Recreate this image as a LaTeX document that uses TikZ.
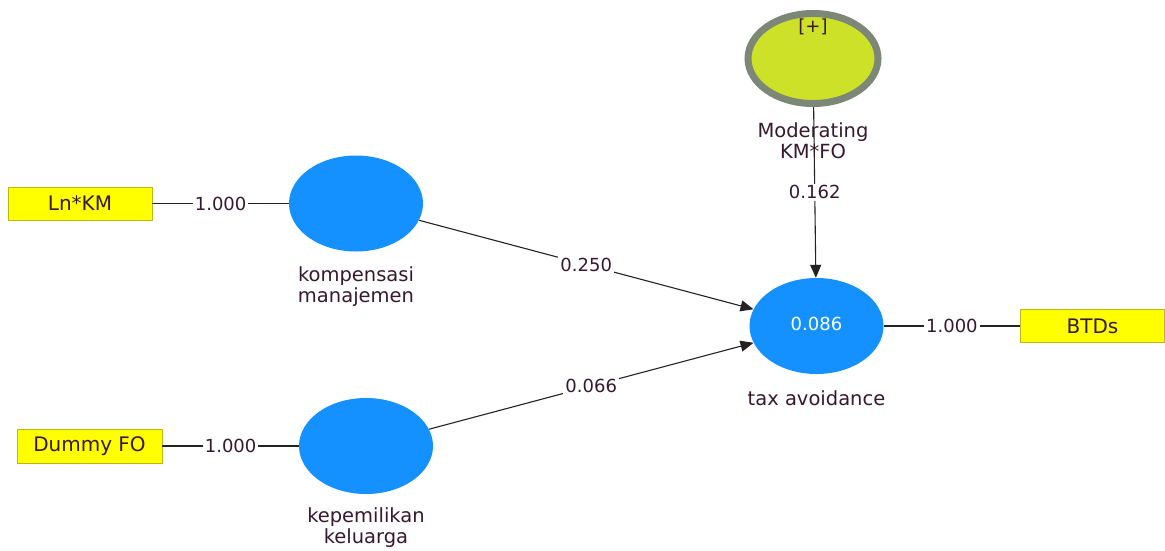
\documentclass[tikz,border=0pt]{standalone}
\usepackage{fontspec}
\setmainfont{DejaVu Sans}
\usetikzlibrary{shapes.geometric,arrows.meta}
\definecolor{lvblue}{RGB}{20,145,255}
\definecolor{indyellow}{RGB}{255,255,0}
\definecolor{indborder}{RGB}{185,185,20}
\definecolor{txtcol}{RGB}{55,25,45}
\definecolor{linecol}{RGB}{35,35,35}
\definecolor{modfill}{RGB}{205,225,40}
\definecolor{modring}{RGB}{125,135,120}
\tikzset{
  lv/.style={ellipse, fill=lvblue, draw=none, minimum width=134pt, minimum height=96pt, inner sep=0pt},
  modlv/.style={ellipse, fill=modfill, draw=modring, line width=7pt, minimum width=130pt, minimum height=90pt, inner sep=0pt},
  ind/.style={rectangle, fill=indyellow, draw=indborder, line width=0.8pt, minimum width=144pt, minimum height=33pt, inner sep=0pt, text=txtcol, font=\fontsize{20}{22}\selectfont},
  lbl/.style={text=txtcol, font=\fontsize{19.5}{21}\selectfont, align=center, inner sep=1pt},
  coef/.style={fill=white, text=txtcol, font=\fontsize{18}{20}\selectfont, inner sep=2pt},
  conn/.style={draw=linecol, line width=1.1pt},
  arr/.style={conn, -{Triangle[length=13pt,width=11pt]}}
}
\begin{document}
\begin{tikzpicture}[x=1pt,y=-1pt]
\useasboundingbox[fill=white] (0,0) rectangle (1165,550);
% latent variables
\node[lv] (komp) at (356,203.5) {};
\node[lv] (kel) at (366,446) {};
\node[lv, text=white, font=\fontsize{18}{20}\selectfont] (tax) at (816.5,326) {\raisebox{4pt}{0.086}};
\node[modlv] (mod) at (813,58.5) {};
\node[lbl, font=\fontsize{18}{20}\selectfont] (plus) at (813,27) {[+]};
% indicators
\node[ind] (lnkm) at (80,203.5) {Ln*KM};
\node[ind, minimum width=145pt, minimum height=34pt] (dfo) at (89.5,446) {Dummy FO};
\node[ind] (btd) at (1092.5,326) {BTDs};
% connectors
\draw[conn] (lnkm.east) -- node[coef] (c1) {1.000} (komp.west);
\draw[conn] (dfo.east) -- node[coef] (c2) {1.000} (kel.west);
\draw[conn] (tax.east) -- node[coef] (c3) {1.000} (btd.west);
\draw[arr] (komp) -- node[coef] (c4) {0.250} (tax);
\draw[arr] (kel) -- node[coef] (c5) {0.066} (tax);
\draw[arr] (mod) -- node[coef, pos=0.5] (c6) {0.162} (tax);
% labels
\node[lbl] (lkomp) at (356,287) {kompensasi\\manajemen};
\node[lbl] (lkel) at (366,528) {kepemilikan\\keluarga};
\node[lbl] (ltax) at (816.5,398) {tax avoidance};
\node[lbl] (lmod) at (813,141) {Moderating\\KM*FO};
\end{tikzpicture}
\end{document}
